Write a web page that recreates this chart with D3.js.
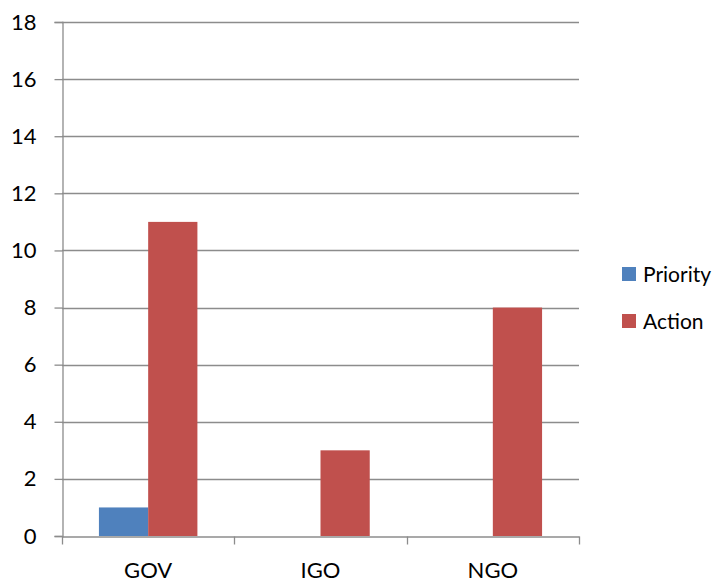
<!DOCTYPE html>
<html>
<head>
<meta charset="utf-8">
<script src="https://cdn.jsdelivr.net/npm/d3@7"></script>
<style>
  html, body { margin: 0; padding: 0; background: #fff; }
  text { font-family: Lato, "Open Sans", sans-serif; fill: #000; }
</style>
</head>
<body>
<svg id="chart" width="725" height="585"></svg>
<script>
// Counts per organisation type
const categories = ["GOV", "IGO", "NGO"];
const seriesNames = ["Priority", "Action"];
const priorityValues = [1, 0, 0];
const actionValues = [11, 3, 8];
const yTicks = [0, 2, 4, 6, 8, 10, 12, 14, 16, 18];
const colors = ["#4F81BD", "#C0504D"];

const svg = d3.select("#chart");
const margin = { left: 62, right: 146, top: 22, bottom: 49 };
const width = 725 - margin.left - margin.right;
const height = 585 - margin.top - margin.bottom;
const g = svg.append("g").attr("transform", `translate(${margin.left},${margin.top})`);

const x = d3.scaleBand().domain(categories).range([0, width]).paddingInner(0).paddingOuter(0);
const x1 = d3.scaleBand().domain(seriesNames).range([0, x.bandwidth()])
  .paddingInner(0).paddingOuter(0.75);
const y = d3.scaleLinear().domain([0, 18]).range([height, 0]);

// horizontal gridlines
g.append("g").selectAll("line").data(yTicks.filter(d => d > 0)).join("line")
  .attr("x1", 0).attr("x2", width)
  .attr("y1", d => Math.round(y(d)) + 0.5).attr("y2", d => Math.round(y(d)) + 0.5)
  .attr("stroke", "#8c8c8c").attr("stroke-width", 1.3);

// y axis
const yAxis = g.append("g").attr("transform", "translate(0.5,0)")
  .call(d3.axisLeft(y).tickValues(yTicks).tickSize(8).tickPadding(18));
yAxis.select(".domain").attr("stroke", "#8c8c8c").attr("stroke-width", 1.3);
yAxis.selectAll(".tick line").attr("stroke", "#8c8c8c").attr("stroke-width", 1.3);
yAxis.selectAll(".tick text").attr("font-size", 22).style("font-family", "Lato, sans-serif");

// bars
const rows = categories.map((c, i) => ({ cat: c, vals: [priorityValues[i], actionValues[i]] }));
const groups = g.append("g").selectAll("g").data(rows).join("g")
  .attr("transform", d => `translate(${x(d.cat)},0)`);
groups.selectAll("rect")
  .data(d => d.vals.map((v, j) => ({ key: seriesNames[j], v, j })).filter(e => e.v > 0))
  .join("rect")
  .attr("x", d => x1(d.key))
  .attr("width", x1.bandwidth())
  .attr("y", d => y(d.v))
  .attr("height", d => y(0) - y(d.v))
  .attr("fill", d => colors[d.j]);

// x axis
const xAxis = g.append("g").attr("transform", `translate(0,${height + 0.5})`)
  .call(d3.axisBottom(x).tickSize(0).tickPadding(26));
xAxis.select(".domain").attr("stroke", "#8c8c8c").attr("stroke-width", 1.3);
xAxis.selectAll(".tick text").attr("font-size", 22).style("font-family", "Lato, sans-serif");
// category boundary ticks
xAxis.append("g").selectAll("line").data(d3.range(categories.length + 1)).join("line")
  .attr("x1", i => Math.round(i * x.bandwidth()) + 0.5)
  .attr("x2", i => Math.round(i * x.bandwidth()) + 0.5)
  .attr("y1", 0).attr("y2", 8)
  .attr("stroke", "#8c8c8c").attr("stroke-width", 1.3);

// legend
const legend = svg.append("g").attr("transform", "translate(622,267)");
const li = legend.selectAll("g").data(seriesNames).join("g")
  .attr("transform", (d, i) => `translate(0,${i * 47})`);
li.append("rect").attr("width", 14).attr("height", 14).attr("fill", (d, i) => colors[i]);
li.append("text").attr("x", 21).attr("y", 7).attr("dy", "0.36em")
  .attr("font-size", 21).text(d => d);
</script>
</body>
</html>
